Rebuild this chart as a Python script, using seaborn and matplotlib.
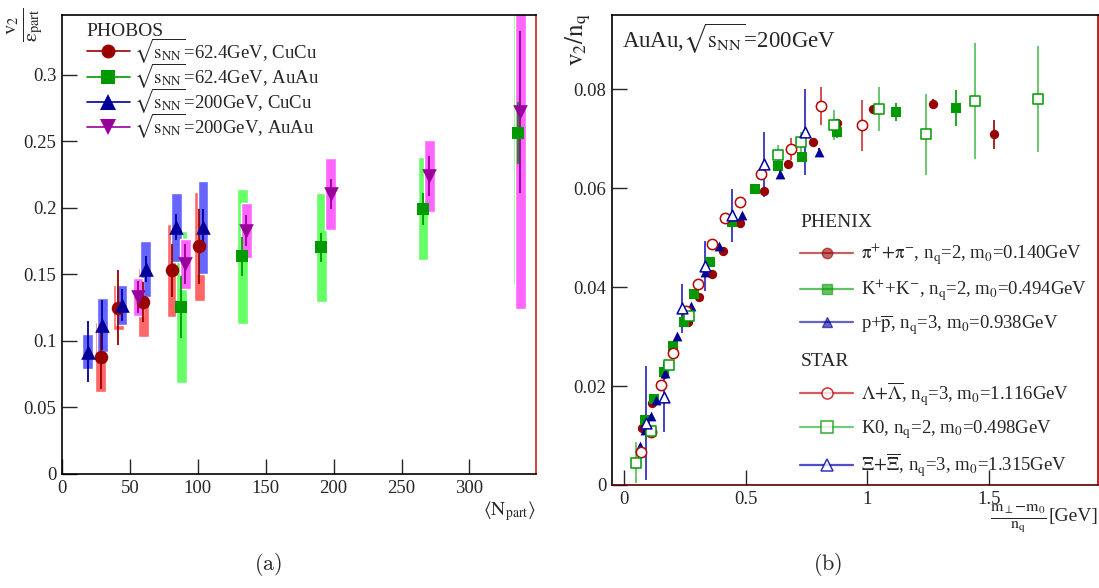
import pandas as pd
import matplotlib
matplotlib.use("Agg")
import matplotlib.pyplot as plt
import seaborn as sns
from matplotlib.lines import Line2D

# ================= DATA (a): PHOBOS v2/eps_part vs <Npart> =================
cucu62_npart = [28.5, 41.4, 60.0, 81.0, 101.0]
cucu62_v2 = [0.088, 0.125, 0.129, 0.153, 0.171]
cucu62_stat = [0.024, 0.028, 0.015, 0.020, 0.028]
cucu62_syst = [0.026, 0.017, 0.026, 0.035, 0.041]

auau62_npart = [87.7, 132.8, 190.8, 265.8, 336.0]
auau62_v2 = [0.1255, 0.1635, 0.1705, 0.1995, 0.2563]
auau62_stat = [0.023, 0.015, 0.011, 0.012, 0.023]
auau62_syst = [0.057, 0.051, 0.041, 0.039, 0.114]

cucu200_npart = [19.1, 29.8, 44.0, 61.7, 84.0, 103.8]
cucu200_v2 = [0.092, 0.112, 0.127, 0.154, 0.1855, 0.1855]
cucu200_stat = [0.023, 0.019, 0.012, 0.010, 0.010, 0.014]
cucu200_syst = [0.013, 0.020, 0.015, 0.021, 0.026, 0.035]

auau200_npart = [56.0, 90.8, 135.7, 198.0, 270.5, 337.6]
auau200_v2 = [0.133, 0.158, 0.183, 0.2105, 0.224, 0.272]
auau200_stat = [0.012, 0.015, 0.012, 0.011, 0.015, 0.061]
auau200_syst = [0.014, 0.019, 0.021, 0.027, 0.027, 0.148]

# ================= DATA (b): v2/nq vs (mT-m0)/nq =================
pi_x = [0.073, 0.114, 0.163, 0.198, 0.260, 0.308, 0.359, 0.407, 0.474, 0.573,
        0.673, 0.776, 0.876, 1.022, 1.272, 1.523]
pi_v2 = [0.0115, 0.0166, 0.0224, 0.0281, 0.0330, 0.0380, 0.0426, 0.0472, 0.0529, 0.0594,
         0.0649, 0.0694, 0.0731, 0.0760, 0.0770, 0.0709]
pi_err = [0.0003, 0.0003, 0.0003, 0.0003, 0.0003, 0.0003, 0.0003, 0.0003, 0.0004, 0.0004,
          0.0005, 0.0005, 0.0006, 0.0008, 0.0011, 0.0029]

k_x = [0.084, 0.123, 0.164, 0.201, 0.245, 0.288, 0.352, 0.441, 0.536, 0.634,
       0.730, 0.875, 1.118, 1.365]
k_v2 = [0.0131, 0.0174, 0.0229, 0.0281, 0.0330, 0.0387, 0.0451, 0.0532, 0.0598, 0.0645,
        0.0662, 0.0714, 0.0754, 0.0762]
k_err = [0.0003, 0.0003, 0.0003, 0.0003, 0.0004, 0.0004, 0.0005, 0.0006, 0.0007, 0.0009,
         0.0010, 0.0012, 0.0018, 0.0037]

p_x = [0.064, 0.086, 0.109, 0.130, 0.167, 0.217, 0.274, 0.332, 0.390, 0.484, 0.640, 0.800]
p_v2 = [0.0079, 0.0111, 0.0140, 0.0172, 0.0226, 0.0302, 0.0362, 0.0431, 0.0483, 0.0545,
        0.0628, 0.0673]
p_err = [0.0003, 0.0003, 0.0003, 0.0003, 0.0003, 0.0003, 0.0003, 0.0004, 0.0004, 0.0005,
         0.0006, 0.0008]

lam_x = [0.068, 0.108, 0.149, 0.198, 0.253, 0.304, 0.359, 0.415, 0.477, 0.562, 0.686,
         0.809, 0.977]
lam_v2 = [0.0066, 0.0108, 0.0202, 0.0267, 0.0352, 0.0407, 0.0487, 0.0540, 0.0572, 0.0628,
          0.0679, 0.0766, 0.0727]
lam_err = [0.0006, 0.0006, 0.0005, 0.0005, 0.0006, 0.0006, 0.0006, 0.0007, 0.0010, 0.0012,
           0.0023, 0.0038, 0.0052]

k0_x = [0.049, 0.109, 0.182, 0.264, 0.632, 0.727, 0.862, 1.049, 1.242, 1.444, 1.703]
k0_v2 = [0.0045, 0.0110, 0.0242, 0.0341, 0.0667, 0.0694, 0.0727, 0.0760, 0.0709, 0.0776, 0.0781]
k0_err = [0.0041, 0.0007, 0.0006, 0.0008, 0.0021, 0.0020, 0.0030, 0.0045, 0.0082, 0.0118, 0.0107]

xi_x = [0.090, 0.164, 0.237, 0.330, 0.442, 0.576, 0.742]
xi_v2 = [0.0125, 0.0178, 0.0357, 0.0443, 0.0545, 0.0648, 0.0714]
xi_err = [0.0115, 0.0070, 0.0050, 0.0050, 0.0054, 0.0066, 0.0087]

SQ = r"$\sqrt{\mathrm{s}_{\mathrm{NN}}}$"
phobos_labels = [SQ + "=62.4GeV, CuCu", SQ + "=62.4GeV, AuAu",
                 SQ + "=200GeV, CuCu", SQ + "=200GeV, AuAu"]
phenix_labels = [r"$\mathrm{\pi^{+}\!+\!\pi^{-}}$, n$_{\mathrm{q}}$=2, m$_{\mathrm{0}}$=0.140GeV",
                 r"K$^{+}$+K$^{-}$, n$_{\mathrm{q}}$=2, m$_{\mathrm{0}}$=0.494GeV",
                 r"p+$\mathrm{\overline{p}}$, n$_{\mathrm{q}}$=3, m$_{\mathrm{0}}$=0.938GeV"]
star_labels = [r"$\mathrm{\Lambda\!+\!\overline{\Lambda}}$, n$_{\mathrm{q}}$=3, m$_{\mathrm{0}}$=1.116GeV",
               r"K0, n$_{\mathrm{q}}$=2, m$_{\mathrm{0}}$=0.498GeV",
               r"$\mathrm{\Xi\!+\!\overline{\Xi}}$, n$_{\mathrm{q}}$=3, m$_{\mathrm{0}}$=1.315GeV"]


def style_axes(ax):
    for s in ax.spines.values():
        s.set_linewidth(1.2)
        s.set_color("black")
    ax.tick_params(direction="in", length=11, width=1.0, labelsize=13.5,
                   top=False, right=False, pad=4)


def plot_phobos(ax):
    series = [
        (cucu62_npart, cucu62_v2, cucu62_stat, cucu62_syst, "#990000", "#ff6666", "o", 95),
        (auau62_npart, auau62_v2, auau62_stat, auau62_syst, "#009900", "#66ff66", "s", 85),
        (cucu200_npart, cucu200_v2, cucu200_stat, cucu200_syst, "#000099", "#6666ff", "^", 110),
        (auau200_npart, auau200_v2, auau200_stat, auau200_syst, "#990099", "#ff66ff", "v", 110),
    ]
    for x, y, st, sy, c, bc, m, s in series:
        lo = [a - b for a, b in zip(y, sy)]
        ax.bar(x, [2 * b for b in sy], bottom=lo, width=8, color=bc, zorder=1)
    for x, y, st, sy, c, bc, m, s in series:
        ax.errorbar(x, y, yerr=st, fmt="none", ecolor=c, elinewidth=1.3, zorder=2)
    for x, y, st, sy, c, bc, m, s in series:
        df = pd.DataFrame({"x": x, "y": y})
        sns.scatterplot(data=df, x="x", y="y", marker=m, s=s, color=c,
                        edgecolor=c, linewidth=0, ax=ax, zorder=3)

    handles = [Line2D([], [], color=c, marker=m, markersize=10 if m in "os" else 11,
                      lw=1.2, markeredgewidth=0)
               for _, _, _, _, c, _, m, _ in series]
    ax.legend(handles, phobos_labels, title="PHOBOS", loc="upper left",
              bbox_to_anchor=(0.028, 1.008), frameon=False, fontsize=13.5,
              title_fontsize=14, handlelength=2.3, handletextpad=0.25,
              labelspacing=-0.2, alignment="left", borderaxespad=0.2)

    ax.set_xlim(0, 349)
    ax.set_ylim(0, 0.345)
    ax.set_xticks([0, 50, 100, 150, 200, 250, 300])
    ax.set_xticklabels(["0", "50", "100", "150", "200", "250", "300"])
    ax.set_yticks([0, 0.05, 0.1, 0.15, 0.2, 0.25, 0.3])
    ax.set_yticklabels(["0", "0.05", "0.1", "0.15", "0.2", "0.25", "0.3"])
    ax.set_xlabel("")
    ax.set_ylabel("")
    style_axes(ax)
    ax.spines["right"].set_color("#cc2222")
    ax.text(-0.078, 1.017, r"$\frac{\mathrm{v}_2}{\mathrm{\varepsilon}_{\mathrm{part}}}$",
            rotation=90, ha="center", va="top", fontsize=21, transform=ax.transAxes)
    ax.text(1.0, -0.055, r"$\langle\mathrm{N}_{\mathrm{part}}\rangle$", ha="right",
            va="top", fontsize=14, transform=ax.transAxes)
    ax.text(0.435, -0.198, r"$\mathrm{(a)}$", ha="center", va="center", fontsize=16,
            math_fontfamily="cm", transform=ax.transAxes)


def plot_scaling(ax):
    filled = [
        (pi_x, pi_v2, pi_err, "#990000", "o", 45),
        (k_x, k_v2, k_err, "#009900", "s", 42),
        (p_x, p_v2, p_err, "#000099", "^", 50),
    ]
    opened = [
        (lam_x, lam_v2, lam_err, "#bb0000", "#cc3333", "o", 55),
        (k0_x, k0_v2, k0_err, "#009900", "#55bb55", "s", 55),
        (xi_x, xi_v2, xi_err, "#0000aa", "#2222bb", "^", 60),
    ]
    for x, y, e, c, m, s in filled:
        ax.errorbar(x, y, yerr=e, fmt="none", ecolor=c, elinewidth=1.2, zorder=2)
    for x, y, e, c, ec, m, s in opened:
        ax.errorbar(x, y, yerr=e, fmt="none", ecolor=ec, elinewidth=1.2, zorder=2)
    for x, y, e, c, m, s in filled:
        df = pd.DataFrame({"x": x, "y": y})
        sns.scatterplot(data=df, x="x", y="y", marker=m, s=s, color=c,
                        edgecolor=c, linewidth=0, ax=ax, zorder=3)
    for x, y, e, c, ec, m, s in opened:
        df = pd.DataFrame({"x": x, "y": y})
        sns.scatterplot(data=df, x="x", y="y", marker=m, s=s, facecolor="white",
                        edgecolor=c, linewidth=1.1, ax=ax, zorder=4)

    h1 = [Line2D([], [], color=c, alpha=0.6, lw=1.6, marker=m,
                 markerfacecolor=c, markeredgecolor=c, markersize=7.5)
          for _, _, _, c, m, _ in filled]
    h2 = [Line2D([], [], color=ec, alpha=0.8, lw=1.6, marker=m,
                 markerfacecolor="white", markeredgecolor=c, markersize=8,
                 markeredgewidth=1.1)
          for _, _, _, c, ec, m, _ in opened]
    kw = dict(frameon=False, fontsize=13.5, title_fontsize=14, handlelength=2.8,
              handletextpad=0.45, labelspacing=0.55, alignment="left",
              borderaxespad=0.0, loc="upper left")
    leg1 = ax.legend(h1, phenix_labels, title="PHENIX",
                     bbox_to_anchor=(0.372, 0.592), **kw)
    ax.add_artist(leg1)
    ax.legend(h2, star_labels, title="STAR", bbox_to_anchor=(0.372, 0.297), **kw)

    ax.set_xlim(-0.051, 1.95)
    ax.set_ylim(0, 0.095)
    ax.set_xticks([0, 0.5, 1, 1.5])
    ax.set_xticklabels(["0", "0.5", "1", "1.5"])
    ax.set_yticks([0, 0.02, 0.04, 0.06, 0.08])
    ax.set_yticklabels(["0", "0.02", "0.04", "0.06", "0.08"])
    ax.set_xlabel("")
    ax.set_ylabel("")
    style_axes(ax)
    ax.spines["right"].set_color("#aa0000")
    ax.spines["bottom"].set_color("#550000")
    ax.text(0.02, 0.985, "AuAu," + SQ + "=200GeV", ha="left", va="top", fontsize=16.5,
            transform=ax.transAxes)
    ax.text(-0.07, 1.005, r"$\mathrm{v}_2\mathrm{/n}_{\mathrm{q}}$", rotation=90,
            ha="center", va="top", fontsize=18, transform=ax.transAxes)
    ax.text(0.893, -0.072, r"$\frac{\mathrm{m}_{\perp}\mathrm{-m}_{0}}{\mathrm{n}_{\mathrm{q}}}$",
            ha="right", va="center", fontsize=16.5, transform=ax.transAxes)
    ax.text(1.0, -0.066, "[GeV]", ha="right", va="center", fontsize=14,
            transform=ax.transAxes)
    ax.text(0.443, -0.17, r"$\mathrm{(b)}$", ha="center", va="center", fontsize=16,
            math_fontfamily="cm", transform=ax.transAxes)


def main():
    sns.set_style("ticks")
    plt.rcParams["font.family"] = ["Liberation Serif", "DejaVu Serif"]
    plt.rcParams["mathtext.fontset"] = "stix"

    fig = plt.figure(figsize=(10.99, 5.88), dpi=100)
    ax1 = fig.add_axes([0.0564, 0.1939, 0.4313, 0.7806])
    ax2 = fig.add_axes([0.5569, 0.1752, 0.4422, 0.7993])

    plot_phobos(ax1)
    plot_scaling(ax2)

    fig.savefig("out.png", dpi=100)
    plt.close(fig)


if __name__ == "__main__":
    main()
